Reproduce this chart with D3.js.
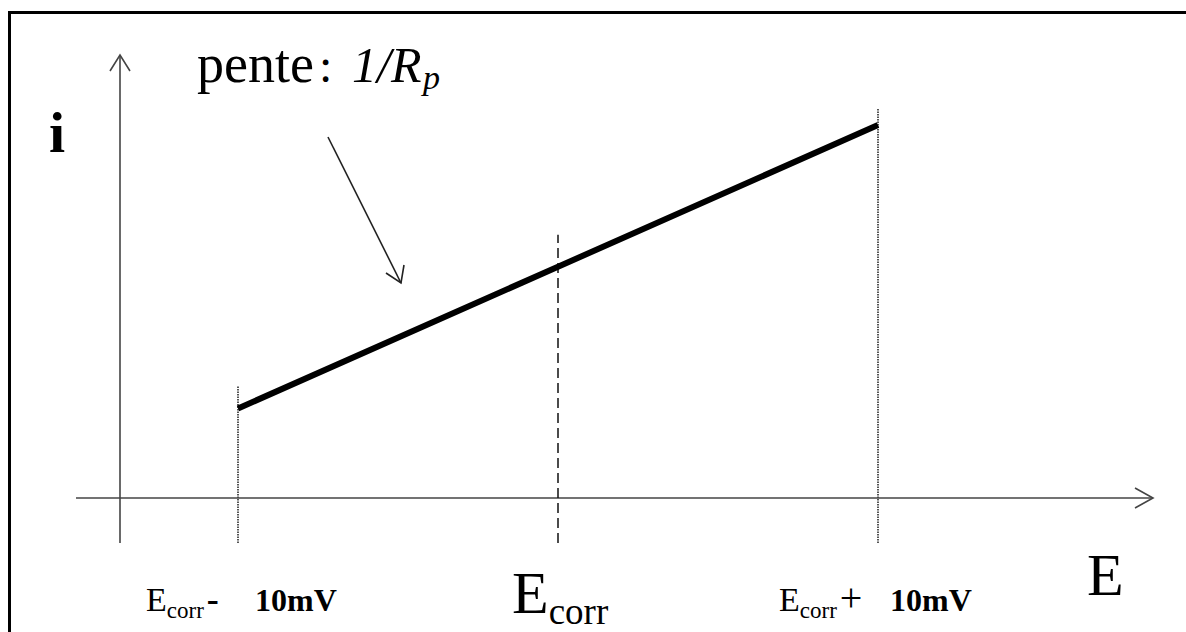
<!DOCTYPE html>
<html>
<head>
<meta charset="utf-8">
<script src="https://cdn.jsdelivr.net/npm/d3@7"></script>
<style>
    body { margin: 0; background: #fff; }
    svg { display: block; }
</style>
</head>
<body>
<script>
// Polarisation lineaire autour de Ecorr : i = f(E), pente 1/Rp

// E relatif a Ecorr (mV) et courant (unites arbitraires)
var potentials = [-10, 0, 10];
var currents = [2.4, 6.2, 10];
var markerLabels = ["-", "", "+"];

var width = 1186,
    height = 632;

var svg = d3.select("body").append("svg")
    .attr("width", width)
    .attr("height", height);

// E (mV) -> pixels, i -> pixels
var xScale = d3.scaleLinear().domain([-10, 10]).range([238, 878]);
var yScale = d3.scaleLinear().domain([0, 10]).range([498, 125]);

var axisColor = "#444";
var serif = "'Liberation Serif', 'Times New Roman', serif";

// cadre (haut et gauche seulement)
svg.append("path")
    .attr("d", "M9.5,632 L9.5,12.5 L1186,12.5")
    .attr("fill", "none")
    .attr("stroke", "#000")
    .attr("stroke-width", 3);

// axes
var xLeft = 76, xRight = 1153;
var y0 = yScale(0);
var yAxisX = 120, yTop = 55, yBottom = 543;

svg.append("line")
    .attr("x1", xLeft).attr("x2", xRight)
    .attr("y1", y0).attr("y2", y0)
    .attr("stroke", axisColor).attr("stroke-width", 1.6);

svg.append("path")
    .attr("d", "M" + (xRight - 18) + "," + (y0 - 10) + " L" + xRight + "," + y0 +
        " L" + (xRight - 18) + "," + (y0 + 10))
    .attr("fill", "none").attr("stroke", axisColor).attr("stroke-width", 1.6);

svg.append("line")
    .attr("x1", yAxisX).attr("x2", yAxisX)
    .attr("y1", yBottom).attr("y2", yTop)
    .attr("stroke", axisColor).attr("stroke-width", 1.6);

svg.append("path")
    .attr("d", "M" + (yAxisX - 10) + "," + (yTop + 16) + " L" + yAxisX + "," + yTop +
        " L" + (yAxisX + 10) + "," + (yTop + 16))
    .attr("fill", "none").attr("stroke", axisColor).attr("stroke-width", 1.6);

// reperes verticaux
svg.selectAll(".guide")
    .data(potentials)
    .enter()
    .append("line")
    .attr("class", "guide")
    .attr("x1", function(d) { return xScale(d); })
    .attr("x2", function(d) { return xScale(d); })
    .attr("y1", yBottom)
    .attr("y2", function(d, i) {
        return yScale(currents[i]) - (d === 0 ? 32 : (d < 0 ? 22 : 17));
    })
    .attr("stroke", function(d) { return d === 0 ? "#111" : "#444"; })
    .attr("stroke-width", function(d) { return d === 0 ? 1.5 : 1.8; })
    .attr("stroke-dasharray", function(d) { return d === 0 ? "10,5" : "1.5,1"; });

// droite de polarisation
var line = d3.line()
    .x(function(d) { return xScale(d[0]); })
    .y(function(d) { return yScale(d[1]); });

svg.append("path")
    .datum(d3.zip(potentials, currents))
    .attr("d", line)
    .attr("fill", "none")
    .attr("stroke", "#000")
    .attr("stroke-width", 6);

// fleche vers la pente
svg.append("line")
    .attr("x1", 328).attr("y1", 137)
    .attr("x2", 401).attr("y2", 283)
    .attr("stroke", "#222").attr("stroke-width", 1.6);
svg.append("path")
    .attr("d", "M386,273 L401,283 L404,265")
    .attr("fill", "none").attr("stroke", "#222").attr("stroke-width", 1.6);

// texte "pente : 1/Rp"
var title = svg.append("text")
    .attr("y", 82)
    .attr("font-family", serif)
    .attr("fill", "#000");
title.append("tspan").attr("x", 197).attr("font-size", 54).text("pente");
title.append("tspan").attr("x", 319).attr("font-size", 48).text(":");
title.append("tspan").attr("x", 352).attr("font-size", 50)
    .attr("font-style", "italic").text("1/R");
title.append("tspan").attr("x", 423).attr("dy", 7).attr("font-size", 34)
    .attr("font-style", "italic").text("p");

// labels des axes
svg.append("text")
    .attr("x", 49).attr("y", 152)
    .attr("font-family", serif)
    .attr("font-weight", "bold")
    .attr("font-size", 58)
    .text("i");

svg.append("text")
    .attr("x", 1087).attr("y", 595)
    .attr("font-family", serif)
    .attr("font-size", 60)
    .text("E");

// Ecorr au centre
var ec = svg.append("text")
    .attr("x", xScale(0) - 46).attr("y", 613)
    .attr("font-family", serif);
ec.append("tspan").attr("font-size", 60).text("E");
ec.append("tspan").attr("dy", 11).attr("font-size", 37).text("corr");

// Ecorr -/+ 10mV
var sideLabels = svg.selectAll(".side")
    .data(potentials.filter(function(d) { return d !== 0; }))
    .enter()
    .append("text")
    .attr("class", "side")
    .attr("x", function(d) { return xScale(d) - (d < 0 ? 92 : 99); })
    .attr("y", 611)
    .attr("font-family", serif);

sideLabels.append("tspan").attr("font-size", 34).text("E");
sideLabels.append("tspan").attr("dy", 7).attr("font-size", 23).text("corr");
sideLabels.append("tspan")
    .attr("dy", -7)
    .attr("dx", 3)
    .attr("font-size", function(d) { return d < 0 ? 36 : 40; })
    .attr("font-weight", function(d) { return d < 0 ? "bold" : "normal"; })
    .text(function(d) { return markerLabels[potentials.indexOf(d)]; });
sideLabels.append("tspan")
    .attr("x", function(d) { return xScale(d) + (d < 0 ? 17 : 12); })
    .attr("font-size", 32)
    .attr("font-weight", "bold")
    .text(function(d) { return Math.abs(d) + "mV"; });
</script>
</body>
</html>
